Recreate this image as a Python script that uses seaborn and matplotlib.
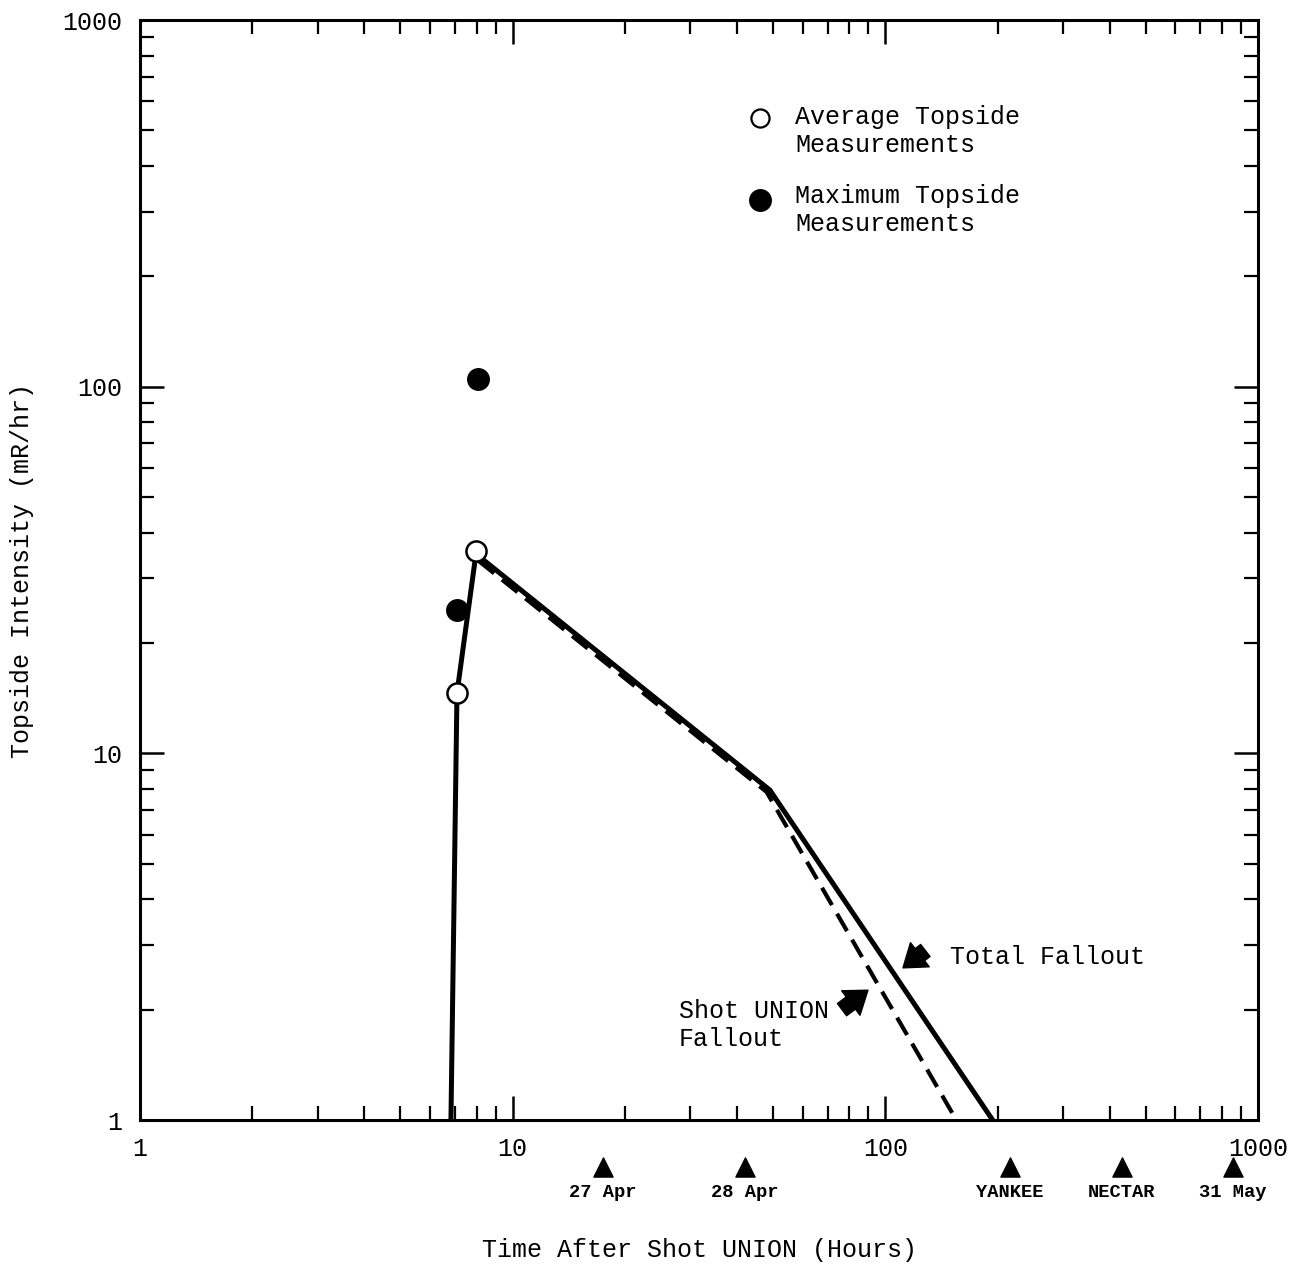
import matplotlib
matplotlib.use("Agg")
import matplotlib.pyplot as plt
import matplotlib.transforms as mtransforms
from matplotlib.ticker import LogLocator, FixedLocator, FixedFormatter, NullFormatter
import seaborn as sns
import pandas as pd

# Total fallout decay curve (hours after shot, mR/hr)
total_hours = [6.83, 7.09, 7.97, 49.0, 194.0]
total_rate = [1.0, 14.6, 35.0, 7.94, 1.0]

# Shot UNION fallout only
union_hours = [8.1, 48.0, 155.0]
union_rate = [33.5, 7.85, 1.0]

# Topside measurements
avg_hours = [7.09, 7.97]
avg_rate = [14.6, 35.6]
max_hours = [7.09, 8.07]
max_rate = [24.6, 105.0]

# Events along the time axis
event_hours = [17.5, 42.0, 216.0, 431.0, 857.0]
event_labels = ["27 Apr", "28 Apr", "YANKEE", "NECTAR", "31 May"]

decade_ticks = [1, 10, 100, 1000]
decade_labels = ["1", "10", "100", "1000"]

sns.set_theme(style="ticks")
plt.rcParams["font.family"] = ["Liberation Mono", "DejaVu Sans"]
plt.rcParams["text.color"] = "black"
plt.rcParams["axes.labelcolor"] = "black"

fig = plt.figure(figsize=(12.91, 12.68), dpi=100)
ax = fig.add_axes([0.1084, 0.1167, 0.8661, 0.8675])
ax.set_xscale("log")
ax.set_yscale("log")

total_df = pd.DataFrame({"hours": total_hours, "rate": total_rate})
union_df = pd.DataFrame({"hours": union_hours, "rate": union_rate})
sns.lineplot(data=total_df, x="hours", y="rate", sort=False, estimator=None,
             color="black", linewidth=3.6, ax=ax, zorder=3)
sns.lineplot(data=union_df, x="hours", y="rate", sort=False, estimator=None,
             color="black", linewidth=3.0, dashes=False, ax=ax, zorder=2,
             linestyle=(0, (4.8, 2.4)))

sns.scatterplot(x=max_hours, y=max_rate, ax=ax, s=240, color="black",
                edgecolor="black", linewidth=1.0, zorder=4)
sns.scatterplot(x=avg_hours, y=avg_rate, ax=ax, s=210, color="white",
                edgecolor="black", linewidth=1.8, zorder=5)

# Key
ax.scatter([46.1], [540], s=170, facecolor="white", edgecolor="black",
           linewidth=1.6, zorder=5)
ax.scatter([46.1], [323], s=240, facecolor="black", edgecolor="black", zorder=5)
ax.text(57.2, 497.6, "Average Topside\nMeasurements", fontsize=18,
        va="center", ha="left", linespacing=1.2)
ax.text(57.2, 303, "Maximum Topside\nMeasurements", fontsize=18,
        va="center", ha="left", linespacing=1.2)

# Curve call-outs
arrow_style = dict(arrowstyle="simple,head_length=0.7,head_width=1.0,tail_width=0.5",
                   fc="black", ec="black", mutation_scale=22, shrinkA=0, shrinkB=0)
ax.annotate("", xy=(111.5, 2.60), xytext=(128.0, 2.90), arrowprops=arrow_style)
ax.text(149, 2.78, "Total Fallout", fontsize=18, va="center", ha="left")
ax.annotate("", xy=(89.8, 2.26), xytext=(76.5, 2.0), arrowprops=arrow_style)
ax.text(27.9, 1.816, "Shot UNION\nFallout", fontsize=18, va="center",
        ha="left", linespacing=1.2)

# Event markers below the time axis
trans = mtransforms.blended_transform_factory(ax.transData, ax.transAxes)
ax.scatter(event_hours, [-0.043] * len(event_hours), marker="^", s=190,
           color="black", transform=trans, clip_on=False, zorder=5)
for h, lab in zip(event_hours, event_labels):
    ax.text(h, -0.066, lab, transform=trans, fontsize=13.5, fontweight="bold",
            ha="center", va="center", clip_on=False)

ax.set_xlim(1, 1000)
ax.set_ylim(1, 1000)

for axis in (ax.xaxis, ax.yaxis):
    axis.set_major_locator(FixedLocator(decade_ticks))
    axis.set_major_formatter(FixedFormatter(decade_labels))
    axis.set_minor_locator(LogLocator(base=10, subs=range(2, 10)))
    axis.set_minor_formatter(NullFormatter())

ax.tick_params(which="both", direction="in", top=True, right=True,
               colors="black", labelsize=18)
ax.tick_params(which="major", length=17, width=1.8)
ax.tick_params(which="minor", length=10, width=1.6)
ax.tick_params(axis="x", which="major", pad=12)
ax.tick_params(axis="y", which="major", pad=13)

for spine in ax.spines.values():
    spine.set_visible(True)
    spine.set_linewidth(2.2)
    spine.set_color("black")

ax.set_xlabel("Time After Shot UNION (Hours)", fontsize=18, color="black")
ax.set_ylabel("Topside Intensity (mR/hr)", fontsize=18, color="black")
ax.xaxis.set_label_coords(0.5, -0.118)
ax.yaxis.set_label_coords(-0.1055, 0.5)
ax.xaxis.label.set_va("center")
ax.yaxis.label.set_va("center")
ax.grid(False)

fig.savefig("out.png", dpi=100, facecolor="white")
